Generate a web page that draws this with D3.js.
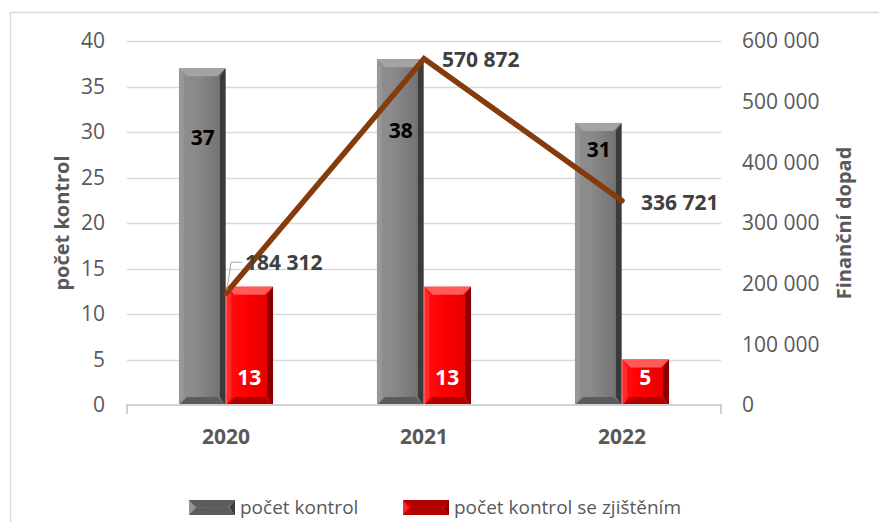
<!DOCTYPE html>
<html>
<head>
<meta charset="utf-8">
<script src="https://cdn.jsdelivr.net/npm/d3@7"></script>
<style>
  body { margin: 0; background: #fff; }
  text { font-family: "Open Sans", "Noto Sans", sans-serif; }
</style>
</head>
<body>
<div id="container"></div>
<script>
// data
var years = ["2020", "2021", "2022"];
var pocetKontrol = [37, 38, 31];
var pocetZjisteni = [13, 13, 5];
var financniDopad = [184312, 570872, 336721];
var leftTicks = [0, 5, 10, 15, 20, 25, 30, 35, 40];
var rightTicks = [0, 100000, 200000, 300000, 400000, 500000, 600000];

// manual label placement (px below bar top) for the grey bars
var grayLabelDy = [69, 71, 27];

var W = 879, H = 522;
var plot = { left: 127, right: 721, top: 41, bottom: 405 };

var svg = d3.select("#container").append("svg")
	.attr("width", W)
	.attr("height", H);

// chart border (only left and top edges are inside the picture)
svg.append("path")
	.attr("d", "M10.5," + H + "V12.5H" + W)
	.attr("fill", "none")
	.attr("stroke", "#d9d9d9")
	.attr("stroke-width", 1.5);

var x = d3.scaleBand().domain(years).range([plot.left, plot.right]);
var yL = d3.scaleLinear().domain([0, 40]).range([plot.bottom, plot.top]);
var yR = d3.scaleLinear().domain([0, 600000]).range([plot.bottom, plot.top]);

var fmt = function(v) { return d3.format(",")(v).replace(/,/g, " "); };

// gridlines
svg.append("g").selectAll("line")
	.data(leftTicks.filter(function(d) { return d > 0; }))
	.enter().append("line")
		.attr("x1", plot.left).attr("x2", plot.right)
		.attr("y1", function(d) { return Math.round(yL(d)) + 0.5; })
		.attr("y2", function(d) { return Math.round(yL(d)) + 0.5; })
		.attr("stroke", "#d9d9d9")
		.attr("stroke-width", 1.3);

// left axis labels
svg.append("g").selectAll("text")
	.data(leftTicks)
	.enter().append("text")
		.attr("x", 105)
		.attr("y", function(d) { return yL(d); })
		.attr("dy", "0.35em")
		.attr("text-anchor", "end")
		.attr("fill", "#595959")
		.style("font-size", "21px")
		.text(function(d) { return d; });

// right axis labels
svg.append("g").selectAll("text")
	.data(rightTicks)
	.enter().append("text")
		.attr("x", 742)
		.attr("y", function(d) { return yR(d); })
		.attr("dy", "0.35em")
		.attr("text-anchor", "start")
		.attr("fill", "#595959")
		.style("font-size", "21px")
		.text(function(d) { return fmt(d); });

// axis titles
svg.append("text")
	.attr("transform", "translate(69," + ((plot.top + plot.bottom) / 2) + ") rotate(-90)")
	.attr("text-anchor", "middle")
	.attr("fill", "#595959")
	.style("font-size", "20px")
	.style("font-weight", "bold")
	.text("počet kontrol");

svg.append("text")
	.attr("transform", "translate(851," + ((plot.top + plot.bottom) / 2) + ") rotate(-90)")
	.attr("text-anchor", "middle")
	.attr("fill", "#595959")
	.style("font-size", "20px")
	.style("font-weight", "bold")
	.text("Finanční dopad");

// bevel gradients
var defs = svg.append("defs");
function grad(id, stops) {
	var g = defs.append("linearGradient").attr("id", id)
		.attr("x1", "0").attr("x2", "1").attr("y1", "0").attr("y2", "0");
	stops.forEach(function(s) {
		g.append("stop").attr("offset", s[0]).attr("stop-color", s[1]);
	});
}
grad("grayFace", [[0, "#8e8e8e"], [0.35, "#8a8a8a"], [1, "#6e6e6e"]]);
grad("redFace", [[0, "#ff1010"], [0.4, "#ff0000"], [1, "#e00000"]]);

var grayTheme = { face: "url(#grayFace)", top: "#a3a3a3", left: "#979797", right: "#3a3a3a", bottom: "#5c5c5c" };
var redTheme = { face: "url(#redFace)", top: "#ff5a5a", left: "#ff2a2a", right: "#8a0000", bottom: "#b00000" };

function bevelBar(g, x0, y0, w, h, t) {
	var b = Math.min(8, h / 2);
	var x1 = x0 + w, y1 = y0 + h;
	g.append("rect").attr("x", x0).attr("y", y0).attr("width", w).attr("height", h).attr("fill", t.face);
	var poly = function(pts, c) {
		g.append("polygon").attr("points", pts.map(function(p) { return p.join(","); }).join(" ")).attr("fill", c);
	};
	poly([[x0, y0], [x1, y0], [x1 - b, y0 + b], [x0 + b, y0 + b]], t.top);
	poly([[x0, y0], [x0 + b * 0.6, y0 + b], [x0 + b * 0.6, y1 - b], [x0, y1]], t.left);
	poly([[x1, y0], [x1, y1], [x1 - b * 0.7, y1 - b], [x1 - b * 0.7, y0 + b]], t.right);
	poly([[x0, y1], [x1, y1], [x1 - b, y1 - b], [x0 + b, y1 - b]], t.bottom);
}

var bw = x.bandwidth() * 0.235;
var bars = svg.append("g");
years.forEach(function(yr, i) {
	var cx = x(yr) + x.bandwidth() / 2;
	bevelBar(bars, cx - bw - 0.5, yL(pocetKontrol[i]), bw, yL(0) - yL(pocetKontrol[i]), grayTheme);
	bevelBar(bars, cx + 0.5, yL(pocetZjisteni[i]), bw, yL(0) - yL(pocetZjisteni[i]), redTheme);
});

// category axis
svg.append("path")
	.attr("d", "M" + plot.left + "," + (plot.bottom + 9) + "V" + plot.bottom + "H" + plot.right + "V" + (plot.bottom + 9))
	.attr("fill", "none")
	.attr("stroke", "#d0d0d0")
	.attr("stroke-width", 2);

svg.append("g").selectAll("text")
	.data(years)
	.enter().append("text")
		.attr("x", function(d) { return x(d) + x.bandwidth() / 2; })
		.attr("y", 437)
		.attr("dy", "0.35em")
		.attr("text-anchor", "middle")
		.attr("fill", "#595959")
		.style("font-size", "21px")
		.style("font-weight", "bold")
		.text(function(d) { return d; });

// bar labels
svg.append("g").selectAll("text")
	.data(pocetKontrol)
	.enter().append("text")
		.attr("x", function(d, i) { return x(years[i]) + x.bandwidth() / 2 - bw / 2; })
		.attr("y", function(d, i) { return yL(d) + grayLabelDy[i]; })
		.attr("dy", "0.35em")
		.attr("text-anchor", "middle")
		.attr("fill", "#000")
		.style("font-size", "21px")
		.style("font-weight", "bold")
		.text(function(d) { return d; });

svg.append("g").selectAll("text")
	.data(pocetZjisteni)
	.enter().append("text")
		.attr("x", function(d, i) { return x(years[i]) + x.bandwidth() / 2 + bw / 2; })
		.attr("y", plot.bottom - 27)
		.attr("dy", "0.35em")
		.attr("text-anchor", "middle")
		.attr("fill", "#fff")
		.style("font-size", "21px")
		.style("font-weight", "bold")
		.text(function(d) { return d; });

// line series on the right axis
var line = d3.line()
	.x(function(d, i) { return x(years[i]) + x.bandwidth() / 2; })
	.y(function(d) { return yR(d); });

svg.append("path")
	.datum(financniDopad)
	.attr("d", line)
	.attr("fill", "none")
	.attr("stroke", "#843c0c")
	.attr("stroke-width", 5.5)
	.attr("stroke-linejoin", "miter")
	.attr("stroke-linecap", "round");

// leader line for first label
var p0x = x(years[0]) + x.bandwidth() / 2, p0y = yR(financniDopad[0]);
svg.append("path")
	.attr("d", "M" + (p0x + 1) + "," + (p0y - 3) + "L" + (p0x + 5) + "," + (p0y - 31) + "H" + (p0x + 16))
	.attr("fill", "none")
	.attr("stroke", "#a6a6a6")
	.attr("stroke-width", 1);

var lineLabelPos = [[19, -31], [18, 1], [19, 2]];
svg.append("g").selectAll("text")
	.data(financniDopad)
	.enter().append("text")
		.attr("x", function(d, i) { return x(years[i]) + x.bandwidth() / 2 + lineLabelPos[i][0]; })
		.attr("y", function(d, i) { return yR(d) + lineLabelPos[i][1]; })
		.attr("dy", "0.35em")
		.attr("fill", "#404040")
		.style("font-size", "21px")
		.style("font-weight", "bold")
		.text(function(d) { return fmt(d); });

// legend
var legend = svg.append("g");
var legendItems = [
	{ label: "počet kontrol", x: 189, theme: grayTheme },
	{ label: "počet kontrol se zjištěním", x: 403, theme: redTheme }
];
legendItems.forEach(function(it) {
	var lg = legend.append("g");
	bevelBar(lg, it.x, 500, 46, 15, Object.assign({}, it.theme, { top: it.theme.bottom }));
	lg.append("text")
		.attr("x", it.x + 51)
		.attr("y", 507)
		.attr("dy", "0.35em")
		.attr("fill", "#595959")
		.style("font-size", "19px")
		.text(it.label);
});
</script>
</body>
</html>
